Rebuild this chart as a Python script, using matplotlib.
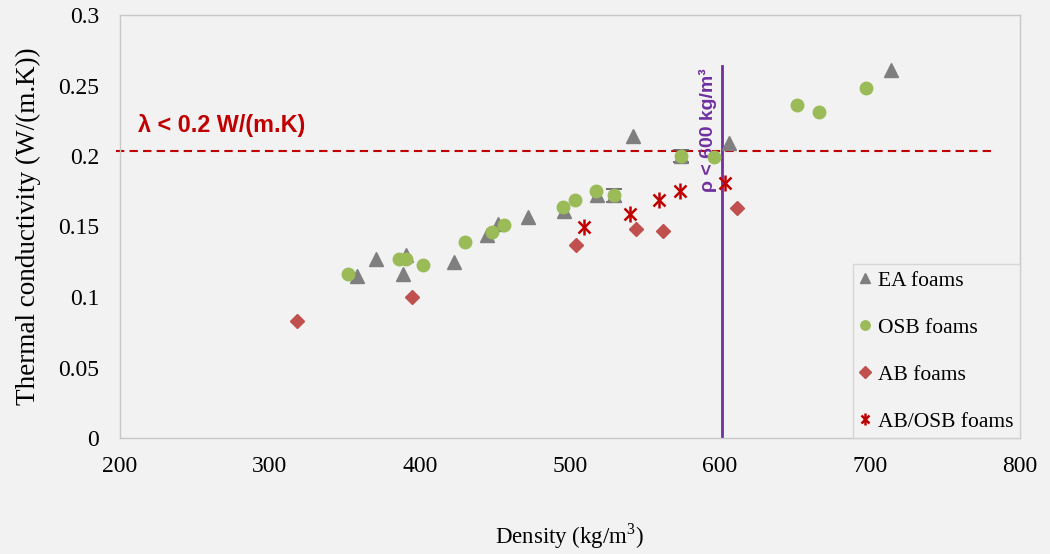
import numpy as np
import matplotlib
matplotlib.use("Agg")
import matplotlib.pyplot as plt
from matplotlib.legend_handler import HandlerTuple

plt.rcParams["mathtext.fontset"] = "custom"
plt.rcParams["mathtext.rm"] = "Liberation Serif"

# EA foams (grey triangles)
ea_density = [358, 371, 391, 389, 423, 445, 452, 472, 496, 518, 529, 542, 574, 606, 714]
ea_lambda = [0.115, 0.127, 0.130, 0.116, 0.125, 0.144, 0.152, 0.157, 0.161, 0.172, 0.172, 0.214, 0.200, 0.209, 0.261]

# the two EA points that carry error bars
err_density = [529, 574]
err_lambda = [0.172, 0.200]
err_size = [0.0045, 0.004]

# OSB foams (green circles)
osb_density = [352, 386, 391, 402, 430, 448, 456, 495, 503, 517, 529, 574, 596, 651, 666, 697]
osb_lambda = [0.116, 0.127, 0.127, 0.123, 0.139, 0.146, 0.151, 0.164, 0.169, 0.175, 0.172, 0.200, 0.199, 0.236, 0.231, 0.248]

# AB foams (red diamonds)
ab_density = [318, 395, 504, 544, 562, 611]
ab_lambda = [0.083, 0.100, 0.137, 0.148, 0.147, 0.163]

# AB/OSB foams (red stars)
abosb_density = [509, 540, 559, 573, 603]
abosb_lambda = [0.150, 0.159, 0.169, 0.175, 0.181]

limit_lambda = 0.2035
limit_density = 601

bg = "#f2f2f2"
serif = ["Liberation Serif", "DejaVu Serif"]
sans = ["Liberation Sans", "DejaVu Sans"]

fig = plt.figure(figsize=(10.5, 5.54), dpi=100, facecolor=bg)
ax = fig.add_axes([120/1050, 1-438/554, 900/1050, 423/554])
ax.set_facecolor(bg)

# limit lines
ax.axhline(limit_lambda, xmin=-0.005, xmax=0.972, color="#c00000", lw=1.5,
           ls=(0, (4, 2.5)), zorder=1, clip_on=False)
ax.plot([limit_density, limit_density], [0, 0.2635], color="#7030a0", lw=2, zorder=1)

ax.text(212, 0.2215, "λ < 0.2 W/(m.K)", color="#c00000", fontsize=16.8,
        fontweight="bold", family=sans, ha="left", va="center")
ax.text(592, 0.2185, "ρ < 600 kg/m³", color="#7030a0", fontsize=14,
        fontweight="bold", family=sans, rotation=90, ha="center", va="center")

# data
ax.errorbar(err_density, err_lambda, yerr=err_size, fmt="none", ecolor="#595959",
            elinewidth=1, capsize=6, capthick=1.2, zorder=2)
h_ea, = ax.plot(ea_density, ea_lambda, ls="none", marker="^", ms=10.5,
                color="#7f7f7f", zorder=3, label="EA foams")
h_osb, = ax.plot(osb_density, osb_lambda, ls="none", marker="o", ms=9,
                 color="#9bbb59", zorder=4, label="OSB foams")
h_ab, = ax.plot(ab_density, ab_lambda, ls="none", marker="D", ms=7.5,
                color="#c0504d", zorder=4, label="AB foams")
h_x1, = ax.plot(abosb_density, abosb_lambda, ls="none", marker="x", ms=8,
                mew=1.8, color="#c00000", zorder=4)
h_x2, = ax.plot(abosb_density, abosb_lambda, ls="none", marker="|", ms=11,
                mew=1.8, color="#c00000", zorder=4)

ax.set_xlim(200, 800)
ax.set_ylim(0, 0.3)
ax.set_xticks([200, 300, 400, 500, 600, 700, 800])
ax.set_yticks([0, 0.05, 0.1, 0.15, 0.2, 0.25, 0.3])
ax.set_yticklabels(["0", "0.05", "0.1", "0.15", "0.2", "0.25", "0.3"])
ax.tick_params(axis="x", length=0, labelsize=17, pad=13)
ax.tick_params(axis="y", length=0, labelsize=17, pad=15)
for lab in ax.get_xticklabels() + ax.get_yticklabels():
    lab.set_family(serif)
for s in ax.spines.values():
    s.set_color("#c8c8c8")
    s.set_linewidth(1)

ax.set_xlabel("Density (kg/m$^3$)", fontsize=16.5, family=serif, labelpad=32)
ax.set_ylabel("Thermal conductivity (W/(m.K))", fontsize=19.5, family=serif, labelpad=12)

leg = ax.legend([h_ea, h_osb, h_ab, (h_x1, h_x2)],
                ["EA foams", "OSB foams", "AB foams", "AB/OSB foams"],
                handler_map={tuple: HandlerTuple(ndivide=1, pad=0)},
                loc="lower right", bbox_to_anchor=(1.0, 0.0), borderaxespad=0,
                prop={"family": serif, "size": 15.5}, frameon=True, fancybox=False,
                facecolor=bg, edgecolor="#d0d0d0", labelspacing=1.25,
                handlelength=0.5, handletextpad=0.35, markerscale=0.75,
                borderpad=0.3)
leg.get_frame().set_linewidth(1)

fig.savefig("out.png", dpi=100, facecolor=bg)
